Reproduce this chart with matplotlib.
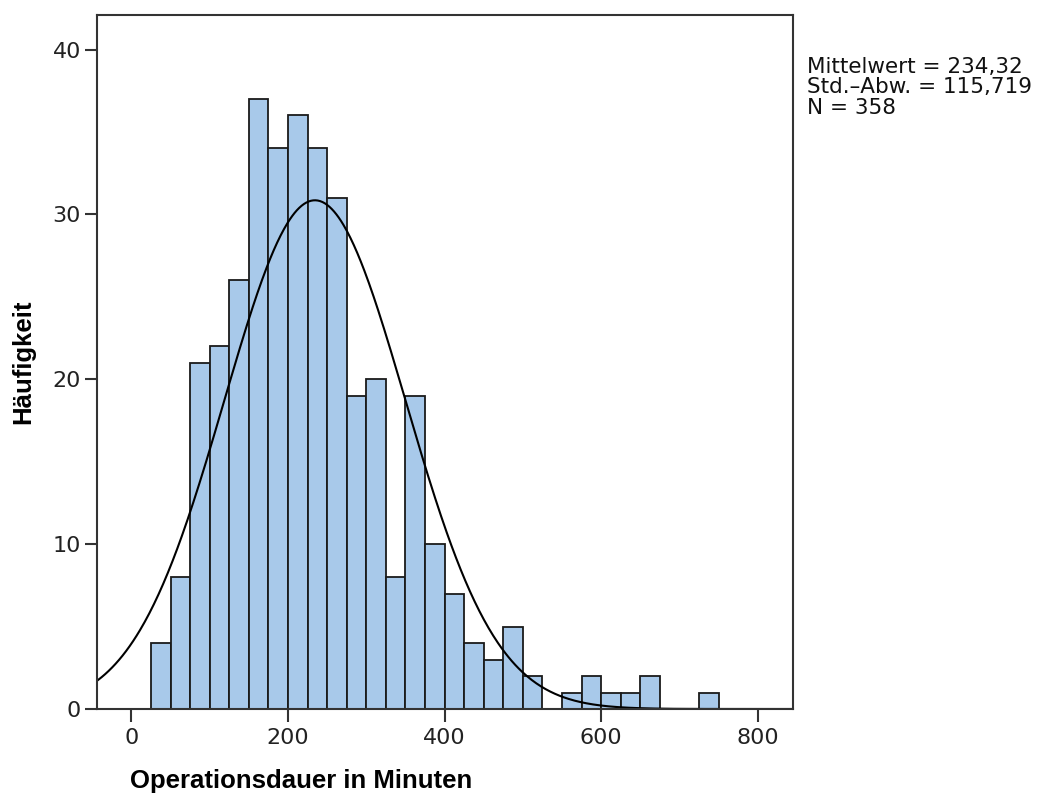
import numpy as np
import matplotlib
matplotlib.use("Agg")
import matplotlib.pyplot as plt

# Histogram bins (25-minute width) and counts
bin_edges = np.arange(25, 775, 25)
counts = [4, 8, 21, 22, 26, 37, 34, 36, 34, 31, 19, 20, 8, 19, 10, 7,
          4, 3, 5, 2, 0, 1, 2, 1, 1, 2, 0, 0, 1]

mean_val = 234.32
std_val = 115.719
n_val = 358
bin_width = 25

fig = plt.figure(figsize=(10.4, 7.96), dpi=100)
ax = fig.add_axes([0.0933, 0.1093, 0.6692, 0.872])

ax.bar(bin_edges[:-1], counts, width=bin_width, align='edge',
       color='#A8C9EA', edgecolor='#1a1a1a', linewidth=1.3)

# normal curve scaled to the histogram
xs = np.linspace(-44, 845, 600)
ys = n_val * bin_width / (std_val * np.sqrt(2 * np.pi)) * np.exp(-0.5 * ((xs - mean_val) / std_val) ** 2)
ax.plot(xs, ys, color='black', linewidth=1.5)

ax.set_xlim(-44, 845)
ax.set_ylim(0, 42.1)
ax.set_xticks([0, 200, 400, 600, 800])
ax.set_yticks([0, 10, 20, 30, 40])
ax.tick_params(direction='out', length=9, width=1.5, pad=2.5, labelsize=16,
               colors='#333333', labelcolor='#222222')
ax.tick_params(axis='x', pad=5)
for s in ax.spines.values():
    s.set_linewidth(1.5)
    s.set_color('#333333')

fig.text(0.022, 0.546, 'Häufigkeit', fontsize=18.5, fontweight='bold', family='Liberation Sans',
         rotation=90, ha='center', va='center')
fig.text(0.125, 0.010, 'Operationsdauer in Minuten', fontsize=18.5, fontweight='bold',
         family='Liberation Sans', ha='left', va='baseline')

fig.text(0.776, 0.929, 'Mittelwert = 234,32\nStd.–Abw. = 115,719\nN = 358',
         fontsize=15.5, ha='left', va='top', linespacing=1.05, color='#111111')

fig.savefig('out.png', dpi=100)
